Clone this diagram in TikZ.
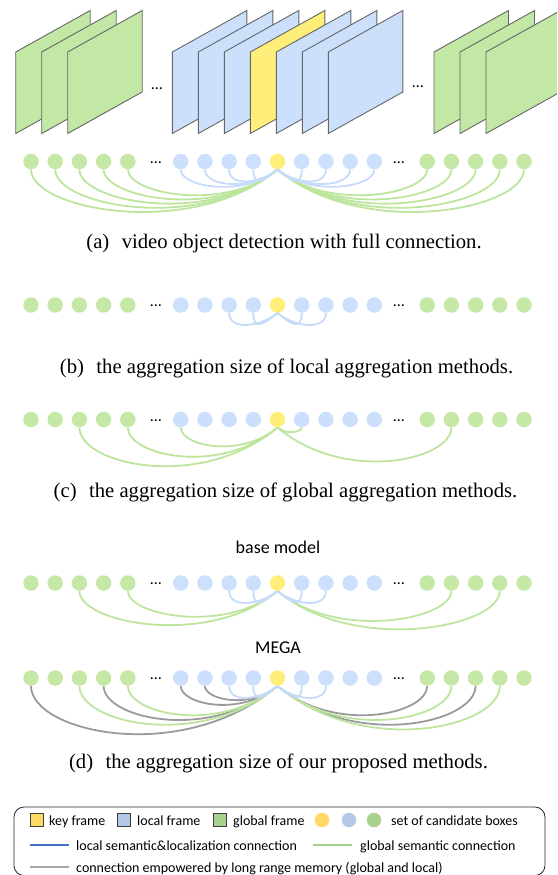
\documentclass[tikz,border=0pt]{standalone}
\usepackage{fontspec}
\setmainfont{Liberation Serif}
\newfontfamily\carl{Carlito}
\usetikzlibrary{calc,backgrounds}

% frame and box colours
\definecolor{gfill}{HTML}{C3E8A5}
\definecolor{bfill}{HTML}{CCE0FB}
\definecolor{yfill}{HTML}{FFEF7A}
\definecolor{gdot}{HTML}{C5E8A6}
\definecolor{bdot}{HTML}{CCDFFC}
\definecolor{ydot}{HTML}{FFEE78}
\definecolor{garcc}{HTML}{BDE59D}
\definecolor{barcc}{HTML}{C5DBF9}
\definecolor{karcc}{HTML}{9A9A9A}
\definecolor{edgec}{HTML}{656565}
% legend colours
\definecolor{lkey}{HTML}{FFD966}
\definecolor{lloc}{HTML}{B4C7E7}
\definecolor{lglob}{HTML}{A9D18E}
\definecolor{lblue}{HTML}{4472C4}
\definecolor{lgreen}{HTML}{A9D18E}
\definecolor{lgray}{HTML}{A6A6A6}

% one slanted video frame: #1 = left x, #2 = fill colour
\newcommand\vframe[2]{%
  \filldraw[frameline, fill=#2] (#1,-133.5) -- (#1,-52) -- ++(74.5,41.5) -- ++(0,-81.5) -- cycle;}

% a row of candidate-box dots: #1 = name prefix, #2 = y
\newcommand\dotrow[2]{%
  \foreach \i/\x/\c in {1/31/gdot,2/55.2/gdot,3/79.4/gdot,4/103.6/gdot,5/127.8/gdot,
      6/180.7/bdot,7/204.9/bdot,8/229.1/bdot,9/253.3/bdot,10/277.5/ydot,
      11/301.7/bdot,12/325.9/bdot,13/350.1/bdot,14/374.3/bdot,
      15/427.2/gdot,16/451.4/gdot,17/475.6/gdot,18/499.8/gdot,19/524/gdot}{%
    \node[cand, fill=\c] (#1\i) at (\x,-#2) {};}
  \node[ell] (#1e1) at (156,-#2-1.5) {…};
  \node[ell] (#1e2) at (399,-#2-1.5) {…};}

% connections to the key frame: source left / right of it
\newcommand\lkl[3]{\draw[#3] (#1.south) to[out=-90,in=-140] (#2.south);}
\newcommand\lkr[3]{\draw[#3] (#1.south) to[out=-90,in=-40] (#2.south);}

\begin{document}
\begin{tikzpicture}[x=1pt,y=1pt,
  frameline/.style={draw=edgec, line width=0.9pt, line join=miter},
  cand/.style={circle, inner sep=0pt, minimum size=15.5pt, draw=none},
  ell/.style={font=\carl\fontsize{16}{18}\selectfont, anchor=base, inner sep=0pt},
  arcbase/.style={line width=1.8pt, out looseness=0.42, in looseness=1.15},
  arcdeep/.style={line width=1.8pt, out looseness=0.48, in looseness=1.3},
  garc/.style={arcbase, draw=garcc},
  garcd/.style={arcdeep, draw=garcc},
  karcd/.style={arcdeep, draw=karcc},
  barc/.style={arcbase, draw=barcc, min distance=18pt},
  capt/.style={font=\fontsize{20.7}{25}\selectfont, anchor=base, inner sep=0pt},
  lab/.style={font=\carl\fontsize{18}{21}\selectfont, anchor=base, inner sep=0pt},
  legbox/.style={draw=black!85, line width=0.8pt, rounded corners=10pt},
  lsq/.style={rectangle, draw=black!75, line width=0.8pt, inner sep=0pt, minimum size=13.5pt},
  ldot/.style={circle, inner sep=0pt, minimum size=14.5pt, draw=none},
  ltext/.style={font=\carl\fontsize{14}{16}\selectfont, anchor=base west, inner sep=0pt},
  lline/.style={line width=2.2pt}]
\useasboundingbox (0,0) rectangle (557,-875);
\clip (0,0) rectangle (557,-875);

% ---- video frames ----
\foreach \x in {15.7,41.7,67.7} {\vframe{\x}{gfill}}
\foreach \x in {172.3,198.3,224.3} {\vframe{\x}{bfill}}
\vframe{250.3}{yfill}
\foreach \x in {276.3,302.3,328.3} {\vframe{\x}{bfill}}
\foreach \x in {434,460,486} {\vframe{\x}{gfill}}
\node[ell] (fe1) at (157,-89.5) {…};
\node[ell] (fe2) at (418,-88) {…};

% ---- (a) full connection ----
\dotrow{a}{161.5}
\begin{pgfonlayer}{background}
\foreach \i in {1,...,5} {\lkl{a\i}{a10}{garc}}
\foreach \i in {15,...,19} {\lkr{a\i}{a10}{garc}}
\foreach \i in {6,...,9} {\lkl{a\i}{a10}{barc}}
\foreach \i in {11,...,14} {\lkr{a\i}{a10}{barc}}
\end{pgfonlayer}
\node[capt] (capa) at (284,-248) {(a)\hspace{0.6em}video object detection with full connection.};

% ---- (b) local aggregation ----
\dotrow{b}{305}
\begin{pgfonlayer}{background}
\lkl{b8}{b10}{barc} \lkl{b9}{b10}{barc}
\lkr{b11}{b10}{barc} \lkr{b12}{b10}{barc}
\end{pgfonlayer}
\node[capt] (capb) at (286.5,-373) {(b)\hspace{0.6em}the aggregation size of local aggregation methods.};

% ---- (c) global aggregation ----
\dotrow{c}{419.5}
\begin{pgfonlayer}{background}
\lkl{c3}{c10}{garcd} \lkl{c5}{c10}{garcd} \lkl{c6}{c10}{garcd}
\lkr{c11}{c10}{garcd} \lkr{c16}{c10}{garcd}
\end{pgfonlayer}
\node[capt] (capc) at (285.5,-497) {(c)\hspace{0.6em}the aggregation size of global aggregation methods.};

% ---- (d) base model and MEGA ----
\node[lab] (lbase) at (278,-553) {base model};
\dotrow{d}{583}
\begin{pgfonlayer}{background}
\lkl{d3}{d10}{garc} \lkl{d5}{d10}{garc}
\lkr{d16}{d10}{garc} \lkr{d18}{d10}{garc}
\lkl{d8}{d10}{barc} \lkl{d9}{d10}{barc}
\lkr{d11}{d10}{barc} \lkr{d12}{d10}{barc}
\end{pgfonlayer}

\node[lab] (lmega) at (278,-653) {MEGA};
\dotrow{e}{678}
\begin{pgfonlayer}{background}
\lkl{e1}{e10}{karcd} \lkl{e4}{e10}{karcd} \lkl{e6}{e10}{karcd} \lkl{e7}{e10}{karcd}
\lkr{e15}{e10}{karcd} \lkr{e17}{e10}{karcd}
\lkl{e3}{e10}{garcd} \lkl{e5}{e10}{garcd}
\lkr{e16}{e10}{garcd} \lkr{e18}{e10}{garcd}
\lkl{e8}{e10}{barc} \lkl{e9}{e10}{barc}
\lkr{e11}{e10}{barc} \lkr{e12}{e10}{barc}
\end{pgfonlayer}
\node[capt] (capd) at (278.5,-768) {(d)\hspace{0.6em}the aggregation size of our proposed methods.};

% ---- legend ----
\draw[legbox] (14,-807) rectangle (545,-875.5);
\node[lsq, fill=lkey] (sqk) at (37,-820) {};
\node[ltext] (tk) at (49,-825) {key frame};
\node[lsq, fill=lloc] (sql) at (124,-820) {};
\node[ltext] (tl) at (137,-825) {local frame};
\node[lsq, fill=lglob] (sqg) at (220,-820) {};
\node[ltext] (tg) at (233,-825) {global frame};
\node[ldot, fill=lkey] (dk) at (322,-820) {};
\node[ldot, fill=lloc] (dl) at (349,-820) {};
\node[ldot, fill=lglob] (dg) at (374,-820) {};
\node[ltext] (tc) at (391,-825) {set of candidate boxes};

\coordinate (lb1) at (30,-845); \coordinate (lb2) at (69,-845);
\draw[lline, lblue] (lb1) -- (lb2);
\node[ltext] (tlb) at (76,-850) {local semantic\&localization connection};
\coordinate (lg1) at (313,-845); \coordinate (lg2) at (352,-845);
\draw[lline, lgreen] (lg1) -- (lg2);
\node[ltext] (tlg) at (360,-850) {global semantic connection};
\coordinate (lk1) at (30,-867); \coordinate (lk2) at (69,-867);
\draw[lline, lgray] (lk1) -- (lk2);
\node[ltext] (tlk) at (76,-872) {connection empowered by long range memory (global and local)};
\end{tikzpicture}
\end{document}
